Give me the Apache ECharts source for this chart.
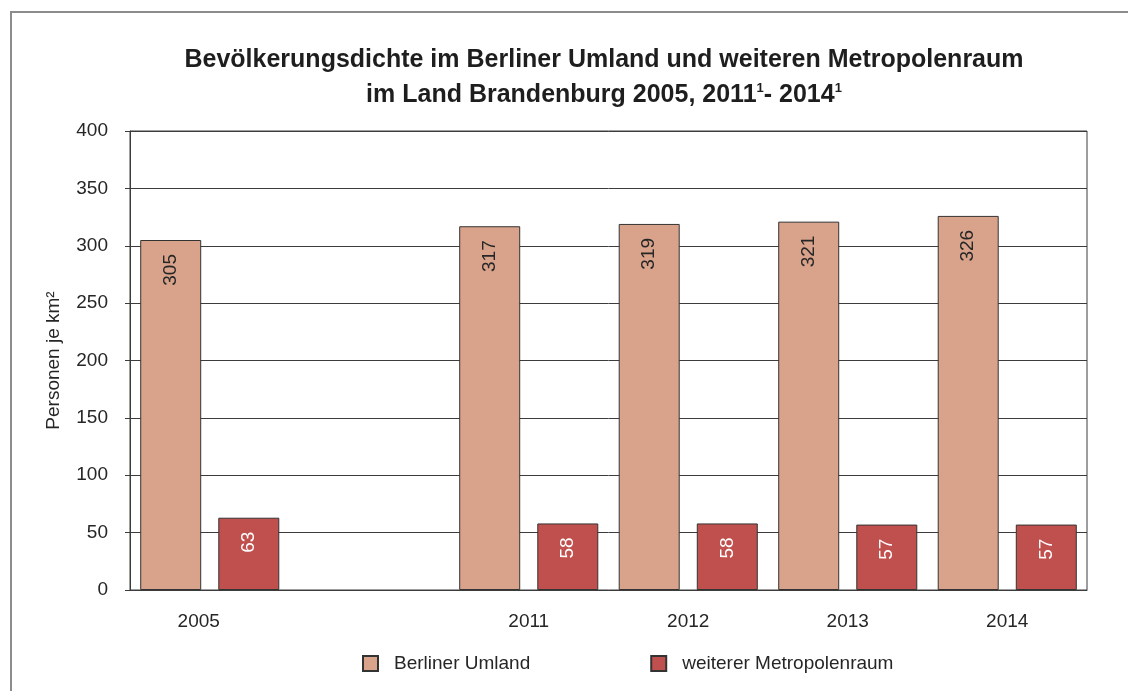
<!DOCTYPE html>
<html>
<head>
<meta charset="utf-8">
<script src="https://cdn.jsdelivr.net/npm/echarts@6/dist/echarts.min.js"></script>
<style>html,body{margin:0;padding:0;background:#fff}#c{width:1128px;height:691px}</style>
</head>
<body>
<div id="c"></div>
<script>
var categories = ['2005', '', '2011', '2012', '2013', '2014'];
var berlinerUmland = [305, null, 317, 319, 321, 326];
var weitererMetropolenraum = [63, null, 58, 58, 57, 57];
var seriesNames = ['Berliner Umland', 'weiterer Metropolenraum'];
var yTicks = { min: 0, max: 400, interval: 50 };
var titleLine1 = 'Bevölkerungsdichte im Berliner Umland und weiteren Metropolenraum';
var titleLine2Parts = ['im Land Brandenburg 2005, 2011', '1', '- 2014', '1'];
var yName = 'Personen je km²';

var FONT = '"Liberation Sans", Arial, sans-serif';
var TXT = '#262626';
var chart = echarts.init(document.getElementById('c'), null, { renderer: 'canvas' });

function labelCfg(color) {
  return {
    show: true, position: 'insideTop', rotate: 90, distance: 14,
    align: 'right', verticalAlign: 'middle',
    color: color, fontSize: 19, fontFamily: FONT
  };
}

var titleText = '{t|' + titleLine1 + '}\n{t|' + titleLine2Parts[0] + '}{s|' + titleLine2Parts[1] + '}{t|' + titleLine2Parts[2] + '}{s|' + titleLine2Parts[3] + '}';

chart.setOption({
  animation: false,
  backgroundColor: '#fff',
  graphic: [
    { type: 'rect', shape: { x: 11, y: 12, width: 1300, height: 900 }, style: { fill: 'none', stroke: '#8c8c8c', lineWidth: 2 }, z: -1 },
    { type: 'text', x: 604, y: 43, style: {
        text: titleText, align: 'center', fill: '#1e1e1e',
        rich: {
          t: { fontSize: 25, fontWeight: 'bold', fontFamily: FONT, fill: '#1e1e1e', lineHeight: 35 },
          s: { fontSize: 13, fontWeight: 'bold', fontFamily: FONT, fill: '#1e1e1e', lineHeight: 35, verticalAlign: 'top', padding: [4, 0, 0, 0] }
        }
      } }
  ],
  grid: { left: 130, right: 41, top: 131, bottom: 101, show: true, borderColor: '#3c3c3c', borderWidth: 1, containLabel: false },
  legend: {
    left: 362, top: 654, itemWidth: 15, itemHeight: 15, itemGap: 120, padding: 0,
    icon: 'rect',
    textStyle: { fontSize: 19, fontFamily: FONT, color: TXT, padding: [0, 0, 0, 11] },
    data: seriesNames
  },
  xAxis: {
    type: 'category', data: categories.map(function (c, i) {
      return i === 0 ? { value: c, textStyle: { padding: [0, 22, 0, 0] } } : c;
    }),
    axisLine: { show: true, lineStyle: { color: '#3c3c3c', width: 1 } },
    axisTick: { show: false },
    axisLabel: { fontSize: 19, fontFamily: FONT, color: TXT, margin: 22 }
  },
  yAxis: {
    type: 'value', min: yTicks.min, max: yTicks.max, interval: yTicks.interval,
    name: yName, nameLocation: 'middle', nameGap: 67, nameRotate: 90,
    nameTextStyle: { fontSize: 19, fontFamily: FONT, color: TXT },
    axisLine: { show: true, lineStyle: { color: '#3c3c3c', width: 1 } },
    axisTick: { show: true, length: 5, lineStyle: { color: '#3c3c3c' } },
    axisLabel: { fontSize: 19, fontFamily: FONT, color: TXT, margin: 22 },
    splitLine: { show: true, lineStyle: { color: '#3c3c3c', width: 1 } }
  },
  series: [
    {
      name: seriesNames[0], type: 'bar', data: berlinerUmland, barWidth: 61, barGap: '28%',
      itemStyle: { color: '#d8a38a', borderColor: '#333', borderWidth: 1 },
      label: labelCfg('#262626')
    },
    {
      name: seriesNames[1], type: 'bar', data: weitererMetropolenraum, barWidth: 61, barGap: '28%',
      itemStyle: { color: '#c0504d', borderColor: '#333', borderWidth: 1 },
      label: labelCfg('#ffffff')
    }
  ]
});
</script>
</body>
</html>
